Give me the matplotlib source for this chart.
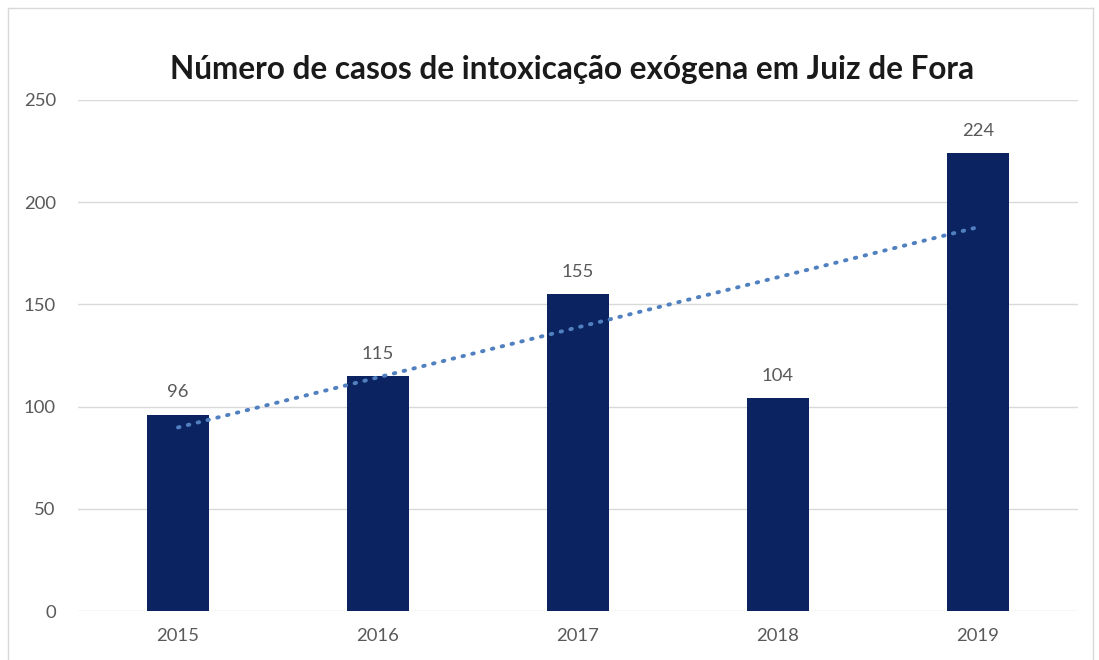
import numpy as np
import matplotlib
matplotlib.use("Agg")
import matplotlib.pyplot as plt
from matplotlib.lines import Line2D

years = ["2015", "2016", "2017", "2018", "2019"]
casos = [96, 115, 155, 104, 224]
yticks = [0, 50, 100, 150, 200, 250]

bar_color = "#0c2361"
trend_color = "#5080c0"
grid_color = "#d9d9d9"
text_gray = "#595959"

plt.rcParams['font.family'] = ['Lato', 'DejaVu Sans']

fig = plt.figure(figsize=(10.99, 6.6), dpi=100)
ax = fig.add_axes([78 / 1099, 49 / 660, 1000 / 1099, 511 / 660])

x = np.arange(len(years))
ax.bar(x, casos, width=0.31, color=bar_color, zorder=2)

# rótulos de valor acima das barras
for xi, v in zip(x, casos):
    ax.text(xi, v + 7, str(v), ha="center", va="bottom", fontsize=13.3, color=text_gray)

# linha de tendência linear
coef = np.polyfit(x, casos, 1)
ax.plot([x[0], x[-1]], np.polyval(coef, [x[0], x[-1]]), linestyle=(0, (0.4, 2.2)),
        linewidth=2.8, color=trend_color, dash_capstyle="round", zorder=3)

ax.set_xlim(-0.5, len(years) - 0.5)
ax.set_ylim(0, 250)
ax.set_yticks(yticks)
ax.set_xticks(x)
ax.set_xticklabels(years)
ax.yaxis.grid(True, color=grid_color, linewidth=1)
ax.set_axisbelow(True)
for s in ax.spines.values():
    s.set_visible(False)
ax.tick_params(axis="both", length=0, labelsize=13.3, colors=text_gray)
ax.tick_params(axis="y", pad=16)
ax.tick_params(axis="x", pad=12)

fig.text(572 / 1099, 1 - 70 / 660, "Número de casos de intoxicação exógena em Juiz de Fora",
         ha="center", va="center", fontsize=22.7, fontweight="bold", color="#1a1a1a")

# moldura do gráfico
for xs, ys in [([8, 8], [0, 652]), ([8, 1093], [652, 652]), ([1093, 1093], [652, 0])]:
    fig.add_artist(Line2D([v / 1099 for v in xs], [v / 660 for v in ys],
                          color="#d9d9d9", linewidth=1))

fig.savefig("out.png", dpi=100)
